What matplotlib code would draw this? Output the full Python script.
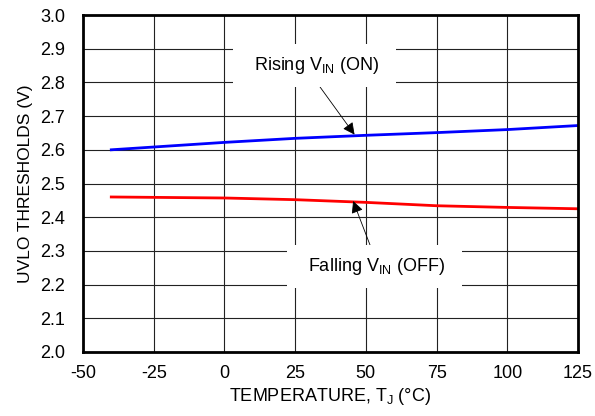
import matplotlib
matplotlib.use("Agg")
import matplotlib.pyplot as plt

temps = [-40, 0, 25, 50, 75, 100, 125]
rising = [2.600, 2.622, 2.634, 2.643, 2.651, 2.660, 2.672]
falling = [2.460, 2.457, 2.452, 2.444, 2.434, 2.429, 2.425]
xticks = [-50, -25, 0, 25, 50, 75, 100, 125]
yticks = [2.0, 2.1, 2.2, 2.3, 2.4, 2.5, 2.6, 2.7, 2.8, 2.9, 3.0]

plt.rcParams['font.family'] = ['Liberation Sans', 'DejaVu Sans']
plt.rcParams['axes.unicode_minus'] = False
fig = plt.figure(figsize=(5.95, 4.16), dpi=100)
ax = fig.add_axes([83/595, 1-352/416, (578-83)/595, (352-15)/416])
ax.plot(temps, rising, color='#0000ff', lw=2)
ax.plot(temps, falling, color='#ff0000', lw=2)
ax.set_xlim(-50, 125)
ax.set_ylim(2.0, 3.0)
ax.set_xticks(xticks)
ax.set_yticks(yticks)
ax.set_yticklabels([f"{v:.1f}" for v in yticks])
ax.grid(True, color='#222222', lw=0.8)
ax.tick_params(axis='y', length=0, labelsize=13, pad=13)
ax.tick_params(axis='x', length=0, labelsize=13, pad=9)
for s in ax.spines.values():
    s.set_linewidth(2)
ax.set_xlabel("TEMPERATURE, T$_\\mathregular{J}$ (°C)", fontsize=13, labelpad=3)
ax.set_ylabel("UVLO THRESHOLDS (V)", fontsize=12.5, labelpad=5)

ax.annotate("  Rising V$_\\mathregular{IN}$ (ON)  ", xy=(46, 2.645), xytext=(32, 2.85),
            ha='center', va='center', fontsize=13,
            bbox=dict(boxstyle='square,pad=0.6', fc='white', ec='none'),
            arrowprops=dict(arrowstyle='-|>', color='black', lw=0.6, mutation_scale=18,
                            shrinkA=0, shrinkB=0, relpos=(0.48, 0)))
ax.annotate("  Falling V$_\\mathregular{IN}$ (OFF)  ", xy=(45.5, 2.448), xytext=(53, 2.253),
            ha='center', va='center', fontsize=13,
            bbox=dict(boxstyle='square,pad=0.6', fc='white', ec='none'),
            arrowprops=dict(arrowstyle='-|>', color='black', lw=0.6, mutation_scale=18,
                            shrinkA=0, shrinkB=0, relpos=(0.5, 1)))
fig.savefig("out.png", dpi=100)
